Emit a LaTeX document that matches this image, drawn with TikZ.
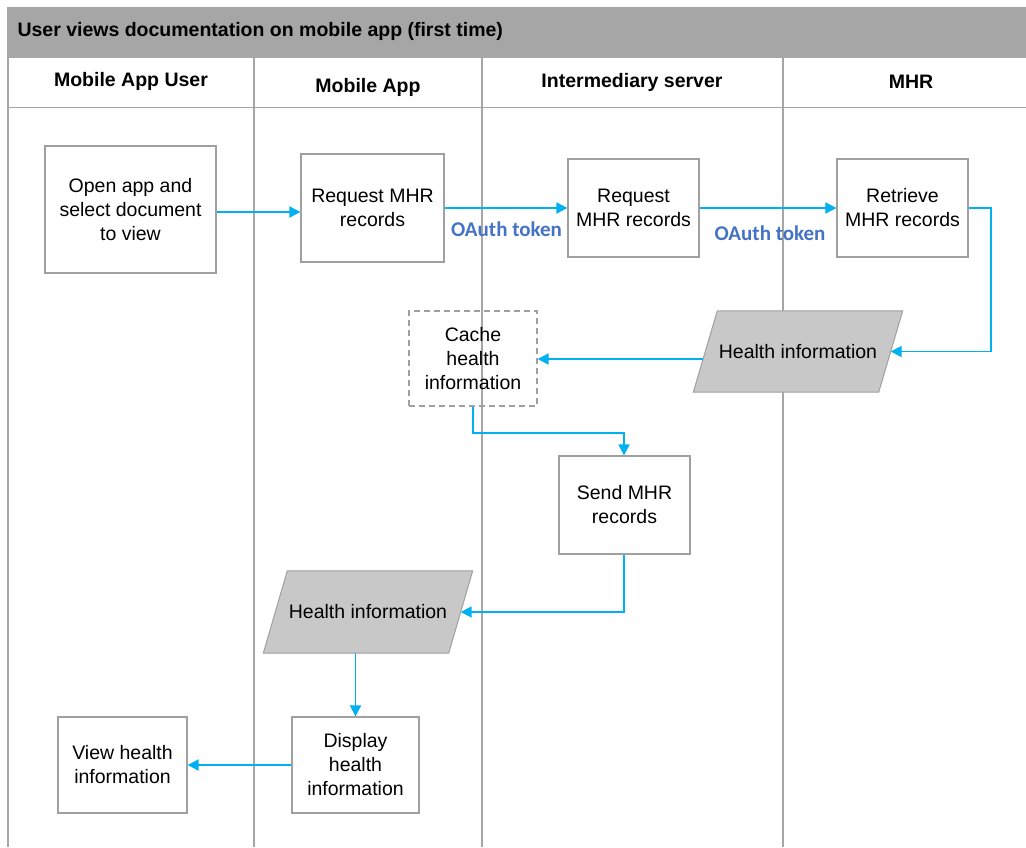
\documentclass[tikz,border=0pt]{standalone}
\usepackage{fontspec}
\setmainfont{Liberation Sans}
\newfontfamily\calib{Carlito}
\usetikzlibrary{arrows.meta,calc}
\definecolor{lanegray}{HTML}{A6A6A6}
\definecolor{boxgray}{HTML}{A0A0A0}
\definecolor{parafill}{HTML}{C8C8C8}
\definecolor{flow}{HTML}{00B0F0}
\definecolor{oauth}{HTML}{4472C4}
\pgfdeclarelayer{lanes}
\pgfdeclarelayer{shapes}
\pgfsetlayers{lanes,shapes,main}
\begin{document}
\begin{tikzpicture}[x=1pt,y=-1pt,
  txt/.style={font=\fontsize{19.5}{24}\selectfont, align=center},
  procbox/.style={txt, draw=boxgray, line width=1.2pt, fill=white, inner sep=0pt},
  cachebox/.style={txt, draw=boxgray, line width=1.2pt, dashed, dash pattern=on 6pt off 4pt, inner sep=0pt},
  datatext/.style={txt, inner sep=0pt, minimum width=185, minimum height=81},
  paraline/.style={draw=boxgray, line width=1pt, fill=parafill},
  lanehead/.style={font=\fontsize{19.5}{24}\selectfont\bfseries},
  lane/.style={draw=lanegray, line width=1.5pt},
  flowarrow/.style={draw=flow, line width=1.8pt, -{Triangle[length=11pt,width=11pt]}},
  token/.style={font=\calib\fontsize{21}{24}\selectfont\bfseries, text=oauth}
]
\useasboundingbox (0,0) rectangle (1026,847);
% title bar and lanes
\begin{pgfonlayer}{lanes}
\fill[lanegray] (8,7) rectangle (1026,58);
\draw[lane] (8,7) -- (8,847);
\draw[lane] (8,107.5) -- (1026,107.5);
\draw[lane] (254,58) -- (254,847);
\draw[lane] (482,58) -- (482,847);
\draw[lane] (783,58) -- (783,847);
\end{pgfonlayer}
\node[lanehead, anchor=west] (title) at (14,31) {User views documentation on mobile app (first time)};
\node[lanehead] (h1) at (131,81) {Mobile App User};
\node[lanehead] (h2) at (368,87) {Mobile App};
\node[lanehead] (h3) at (632,82) {Intermediary server};
\node[lanehead] (h4) at (911,82) {MHR};

% process boxes
\node[procbox, minimum width=171, minimum height=127] (open) at (130.5,209.5) {Open app and\\select document\\to view};
\node[procbox, minimum width=143, minimum height=108] (req1) at (372.5,208) {Request MHR\\records};
\node[procbox, minimum width=131, minimum height=98] (req2) at (633.5,208) {Request\\MHR records};
\node[procbox, minimum width=131, minimum height=98] (retr) at (902.5,208) {Retrieve\\MHR records};
\node[datatext] (hi1) at (798,351.5) {Health information};
\node[cachebox, minimum width=128, minimum height=95] (cache) at (473,358.5) {Cache\\health\\information};
\node[procbox, minimum width=131, minimum height=98] (send) at (624.5,505) {Send MHR\\records};
\node[datatext, minimum height=82] (hi2) at (368,612) {Health information};
\node[procbox, minimum width=127, minimum height=96] (disp) at (355.5,765) {Display\\health\\information};
\node[procbox, minimum width=129, minimum height=96] (view) at (122.5,765) {View health\\information};

% parallelogram outlines behind the text
\begin{pgfonlayer}{shapes}
\foreach \n in {hi1,hi2}{
  \path[paraline] ($(\n.north west)+(12,0)$) -- ($(\n.north east)+(12,0)$)
    -- ($(\n.south east)+(-12,0)$) -- ($(\n.south west)+(-12,0)$) -- cycle;
}
\end{pgfonlayer}

% connectors
\draw[flowarrow] (open.east |- 0,212) -- (req1.west |- 0,212);
\draw[flowarrow] (req1.east) -- (req2.west);
\node[token] (tok1) at (506.5,229) {OAuth token};
\draw[flowarrow] (req2.east) -- (retr.west);
\node[token] (tok2) at (770,233) {OAuth token};
\draw[flowarrow] (retr.east) -| (991,351.5) -- (hi1.east);
\draw[flowarrow] ($(hi1.west)+(-2,7.5)$) -- (cache.east |- 0,359);
\draw[flowarrow] (cache.south) |- (624,433) -- (send.north -| 624,0);
\draw[flowarrow] (send.south -| 624,0) |- (hi2.east);
\draw[flowarrow] (disp.north |- hi2.south) -- (disp.north);
\draw[flowarrow] (disp.west) -- (view.east);
\end{tikzpicture}
\end{document}
